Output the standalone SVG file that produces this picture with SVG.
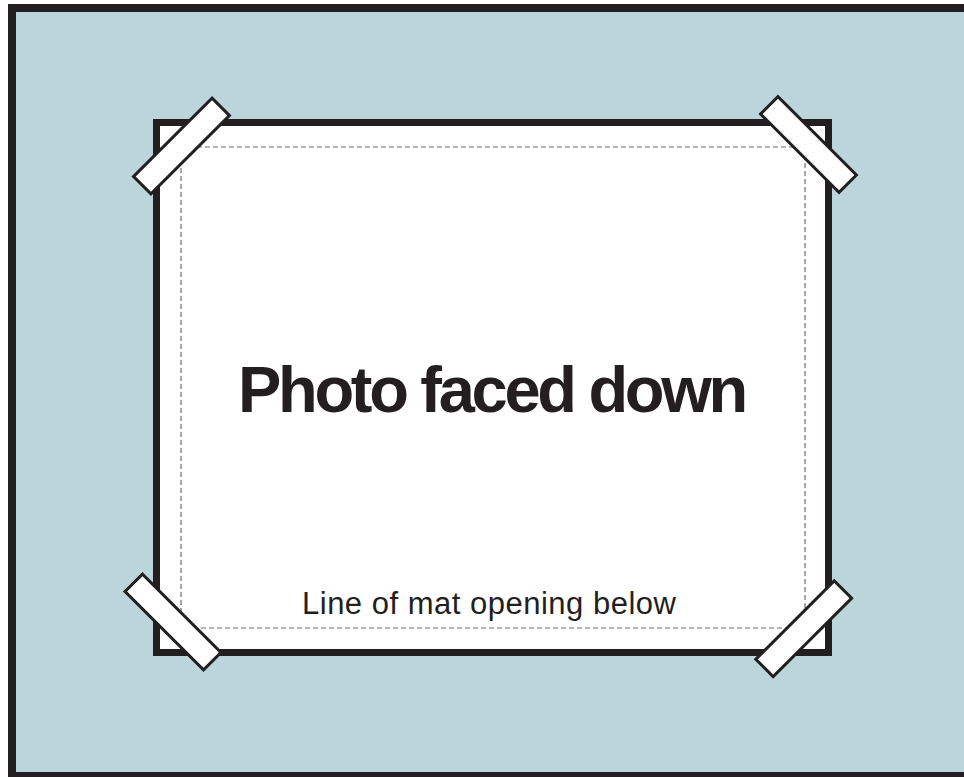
<svg xmlns="http://www.w3.org/2000/svg" width="964" height="777" viewBox="0 0 964 777">
  <style>
    .tape { fill: #ffffff; stroke: #231f20; stroke-width: 3; }
    .title { font-family: "Liberation Sans", Arial, sans-serif; font-weight: bold; font-size: 65px; letter-spacing: -3.3px; fill: #231f20; }
    .note { font-family: "Liberation Sans", Arial, sans-serif; font-size: 31px; letter-spacing: 0.5px; fill: #231f20; }
  </style>
  <rect x="0" y="0" width="964" height="777" fill="#ffffff"/>
  <g id="mat">
    <rect x="12" y="8" width="960" height="768" fill="#bbd5db" stroke="#231f20" stroke-width="8"/>
  </g>
  <g id="photo">
    <rect x="156.5" y="122.5" width="672" height="530" fill="#ffffff" stroke="#231f20" stroke-width="7"/>
    <rect x="181" y="147" width="624" height="481" fill="none" stroke="#6d6e71" stroke-width="1.2" stroke-dasharray="5,3"/>
    <text class="title" x="238" y="412">Photo faced down</text>
    <text class="note" x="302" y="614">Line of mat opening below</text>
  </g>
  <g id="tape-top-left">
    <rect class="tape" x="-55.5" y="-12.3" width="111" height="24.6" transform="translate(181.5 146) rotate(-45)"/>
  </g>
  <g id="tape-top-right">
    <rect class="tape" x="-55.5" y="-12.3" width="111" height="24.6" transform="translate(808.5 144.5) rotate(45)"/>
  </g>
  <g id="tape-bottom-left">
    <rect class="tape" x="-55.5" y="-12.3" width="111" height="24.6" transform="translate(173 622) rotate(45)"/>
  </g>
  <g id="tape-bottom-right">
    <rect class="tape" x="-55.5" y="-12.3" width="111" height="24.6" transform="translate(803.7 628.7) rotate(-45)"/>
  </g>
  <g id="connectors"></g>
</svg>
